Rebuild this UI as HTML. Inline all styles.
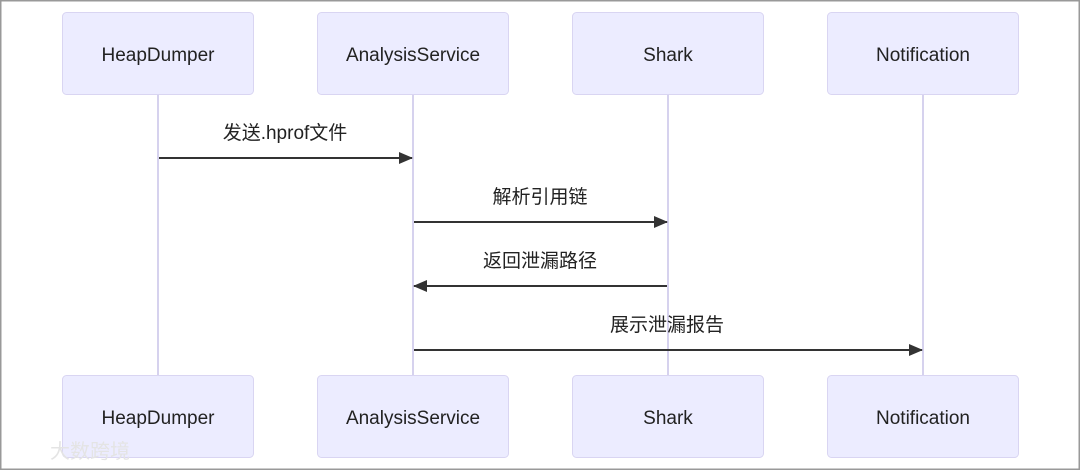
<!DOCTYPE html>
<html><head><meta charset="utf-8"><style>
html,body{margin:0;padding:0;background:#fff;width:1080px;height:470px;overflow:hidden}
svg{display:block}
text{font-family:"Liberation Sans","Noto Sans CJK SC",sans-serif;fill:#222}
</style></head><body>
<svg width="1080" height="470" viewBox="0 0 1080 470">
<rect x="0" y="0" width="1080" height="470" fill="#fff"/>
<rect x="0.5" y="0.5" width="1079" height="469" fill="none" stroke="#999" stroke-width="2"/>
<defs><marker id="a" markerWidth="14" markerHeight="12" refX="13" refY="6" orient="auto" markerUnits="userSpaceOnUse"><path d="M0,0 L14,6 L0,12 z" fill="#333"/></marker></defs>
<g stroke="#d6d2ee" stroke-width="2">
<line x1="158" y1="95" x2="158" y2="375"/><line x1="413" y1="95" x2="413" y2="375"/>
<line x1="668" y1="95" x2="668" y2="375"/><line x1="923" y1="95" x2="923" y2="375"/>
</g>
<g fill="#ececff" stroke="#d9d5f2" stroke-width="1">
<rect x="62.5" y="12.5" width="191" height="82" rx="4"/><rect x="317.5" y="12.5" width="191" height="82" rx="4"/>
<rect x="572.5" y="12.5" width="191" height="82" rx="4"/><rect x="827.5" y="12.5" width="191" height="82" rx="4"/>
<rect x="62.5" y="375.5" width="191" height="82" rx="4"/><rect x="317.5" y="375.5" width="191" height="82" rx="4"/>
<rect x="572.5" y="375.5" width="191" height="82" rx="4"/><rect x="827.5" y="375.5" width="191" height="82" rx="4"/>
</g>
<g font-size="19" text-anchor="middle">
<text x="158" y="61">HeapDumper</text><text x="413" y="61">AnalysisService</text>
<text x="668" y="61">Shark</text><text x="923" y="61">Notification</text>
<text x="158" y="424">HeapDumper</text><text x="413" y="424">AnalysisService</text>
<text x="668" y="424">Shark</text><text x="923" y="424">Notification</text>
</g>
<g stroke="#333" stroke-width="2" marker-end="url(#a)">
<line x1="159" y1="158" x2="412" y2="158"/>
<line x1="414" y1="222" x2="667" y2="222"/>
<line x1="667" y1="286" x2="414" y2="286"/>
<line x1="414" y1="350" x2="922" y2="350"/>
</g>
<g font-size="19" text-anchor="middle">
<text x="285" y="139">发送.hprof文件</text>
<text x="540" y="203">解析引用链</text>
<text x="540" y="267">返回泄漏路径</text>
<text x="667" y="331">展示泄漏报告</text>
</g>
<text x="50" y="458" font-size="20" fill="#ddd" style="fill:#e4e4e4">大数跨境</text>
</svg>
</body></html>
